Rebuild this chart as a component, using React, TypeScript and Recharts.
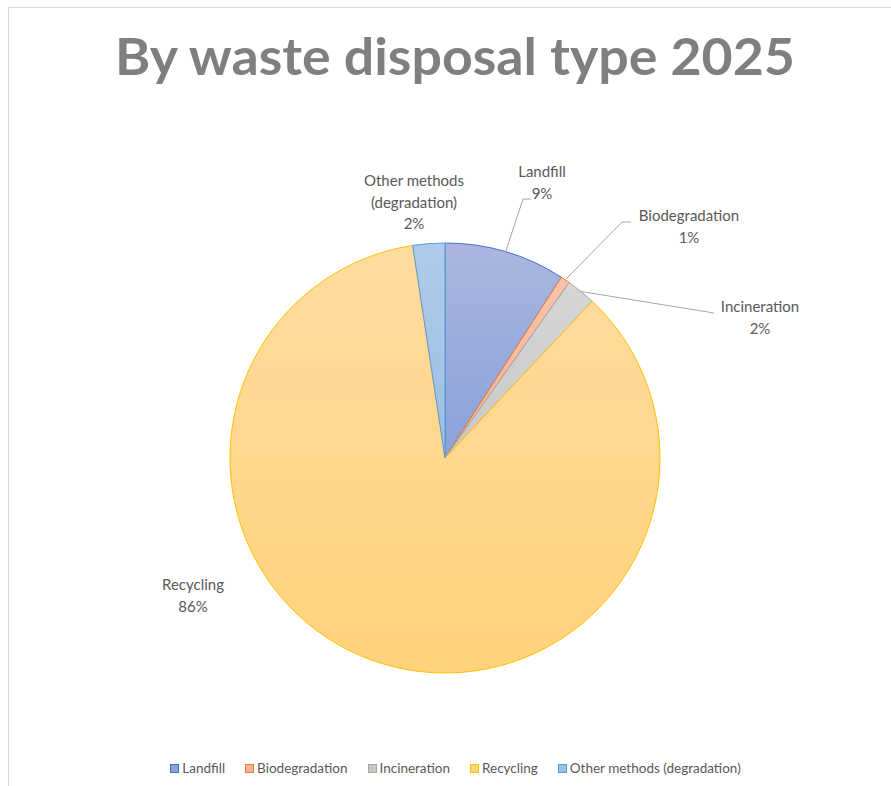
import { PieChart, Pie, Cell, Legend } from 'recharts';

const categories = ['Landfill', 'Biodegradation', 'Incineration', 'Recycling', 'Other methods (degradation)'];
const shares = [9.1, 0.7, 2.2, 85.6, 2.4];

const data = categories.map((name, i) => ({ name, value: shares[i] }));

const STROKES = ['#4472c4', '#ed7d31', '#a5a5a5', '#ffc000', '#5b9bd5'];
const GRAD_TOP = ['#aab6df', '#f8c3ab', '#d6d6d6', '#ffdc9f', '#aecbea'];
const GRAD_BOTTOM = ['#8aa1da', '#f5b194', '#c8c8c8', '#ffd27c', '#9cbfe6'];

// label placement, relative to the pie centre (text lines and leader elbow)
const LABEL_LINES = [['Landfill'], ['Biodegradation'], ['Incineration'], ['Recycling'], ['Other methods', '(degradation)']];
const LABEL_POS = [
  { dx: 97, dy: -281, elbow: [78, -259], end: [86, -259] },
  { dx: 244, dy: -237, elbow: [177, -236], end: [186, -236] },
  { dx: 315, dy: -146, elbow: null, end: [269, -145] },
  { dx: -252, dy: 132, elbow: null, end: null },
  { dx: -31, dy: -272, elbow: null, end: null },
];

const CX = 445;
const CY = 458;
const R = 215;
const RADIAN = Math.PI / 180;
const FONT = 'Lato, "Open Sans", sans-serif';

function renderLabel(props: any) {
  const { cx, cy, midAngle, outerRadius, percent, index } = props;
  const pos = LABEL_POS[index];
  const lines = [...LABEL_LINES[index], `${Math.round(percent * 100)}%`];
  const ax = cx + outerRadius * Math.cos(-midAngle * RADIAN);
  const ay = cy + outerRadius * Math.sin(-midAngle * RADIAN);
  let path = '';
  if (pos.end) {
    path = `M${ax},${ay}`;
    if (pos.elbow) path += ` L${cx + pos.elbow[0]},${cy + pos.elbow[1]}`;
    path += ` L${cx + pos.end[0]},${cy + pos.end[1]}`;
  }
  return (
    <g key={`lbl-${index}`}>
      {path && <path d={path} stroke="#a6a6a6" strokeWidth={1} fill="none" />}
      <text x={cx + pos.dx} y={cy + pos.dy} textAnchor="middle" fill="#595959" fontSize={15} fontFamily={FONT}>
        {lines.map((t, i) => (
          <tspan key={i} x={cx + pos.dx} dy={i === 0 ? 0 : 21.5}>
            {t}
          </tspan>
        ))}
      </text>
    </g>
  );
}

function LegendContent() {
  return (
    <div
      style={{
        display: 'flex',
        justifyContent: 'center',
        gap: 20,
        paddingLeft: 20,
        fontFamily: FONT,
        fontSize: 13.5,
        color: '#595959',
        lineHeight: '16px',
      }}
    >
      {categories.map((c, i) => (
        <div key={c} style={{ display: 'flex', alignItems: 'center', gap: 3 }}>
          <span
            style={{
              display: 'inline-block',
              width: 7,
              height: 7,
              background: GRAD_BOTTOM[i],
              border: `1px solid ${STROKES[i]}`,
            }}
          />
          <span>{c}</span>
        </div>
      ))}
    </div>
  );
}

export default function App() {
  return (
    <div style={{ position: 'absolute', left: 0, top: 0, width: 891, height: 786, background: '#fff' }}>
      <div
        style={{
          position: 'absolute',
          left: 8,
          top: 7,
          width: 883,
          height: 779,
          borderLeft: '1px solid #d9d9d9',
          borderTop: '1px solid #d9d9d9',
        }}
      />
      <svg width={891} height={100} style={{ position: 'absolute', left: 0, top: 0 }}>
        <text
          x={455}
          y={75}
          textAnchor="middle"
          fill="#7f7f7f"
          fontSize={52}
          fontWeight={700}
          fontFamily={FONT}
          textLength={680}
          lengthAdjust="spacingAndGlyphs"
        >
          By waste disposal type 2025
        </text>
      </svg>
      <div style={{ position: 'absolute', left: 0, top: 0 }}>
        <PieChart width={891} height={786} margin={{ top: 0, right: 0, bottom: 0, left: 0 }}>
          <defs>
            {categories.map((c, i) => (
              <linearGradient key={c} id={`grad-${i}`} x1="0" y1="0" x2="0" y2="1">
                <stop offset="0%" stopColor={GRAD_TOP[i]} />
                <stop offset="100%" stopColor={GRAD_BOTTOM[i]} />
              </linearGradient>
            ))}
          </defs>
          <Pie
            data={data}
            dataKey="value"
            nameKey="name"
            cx={CX}
            cy={CY}
            outerRadius={R}
            startAngle={90}
            endAngle={-270}
            isAnimationActive={false}
            label={renderLabel}
            labelLine={false}
          >
            {data.map((entry, index) => (
              <Cell key={`cell-${index}`} fill={`url(#grad-${index})`} stroke={STROKES[index]} strokeWidth={1} />
            ))}
          </Pie>
          <Legend content={<LegendContent />} wrapperStyle={{ position: 'absolute', top: 760, left: 0, width: 891 }} />
        </PieChart>
      </div>
    </div>
  );
}
